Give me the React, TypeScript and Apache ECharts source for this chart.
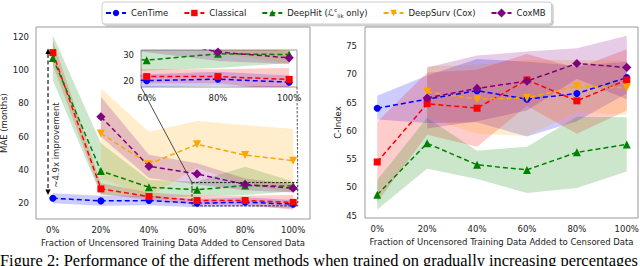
import React, { useEffect, useRef } from "react";
import * as echarts from "echarts";

// ---------- data ----------
const pcts = [0, 20, 40, 60, 80, 100];
const pctTickLabels = ["0%", "20%", "40%", "60%", "80%", "100%"];
const maeTicks = [20, 40, 60, 80, 100, 120];
const cTicks = [45, 50, 55, 60, 65, 70, 75];
const insetXTicks = [60, 80, 100];
const insetYTicks = [20, 30];

const methodNames = ["CenTime", "Classical", "DeepHit", "DeepSurv (Cox)", "CoxMB"];

// MAE (months)
const cenTimeMae = [23.0, 21.4, 21.6, 20.0, 20.6, 19.4];
const classicalMae = [110.6, 28.6, 24.0, 21.6, 21.6, 20.5];
const deepHitMae = [107.3, 39.4, 29.6, 28.1, 30.6, 30.3];
const deepSurvMae = [null, 62.0, 43.5, 55.4, 49.0, 45.6];
const coxMbMae = [null, 72.0, 42.2, 37.6, 31.3, 29.0];

const cenTimeMaeLo = [20.0, 18.5, 18.8, 17.5, 18.0, 17.0];
const cenTimeMaeHi = [26.0, 24.5, 24.5, 22.5, 23.5, 22.0];
const classicalMaeLo = [103.0, 25.5, 22.0, 19.0, 19.0, 16.0];
const classicalMaeHi = [118.0, 32.0, 26.5, 24.5, 24.5, 25.0];
const deepHitMaeLo = [94.0, 25.0, 23.5, 24.0, 25.0, 27.0];
const deepHitMaeHi = [121.0, 56.0, 34.0, 33.0, 42.0, 33.0];
const deepSurvMaeLo = [null, 35.0, 24.0, 41.4, 31.0, 26.6];
const deepSurvMaeHi = [null, 89.0, 63.0, 69.4, 67.0, 64.6];
const coxMbMaeLo = [null, 60.0, 35.2, 31.2, 27.8, 26.5];
const coxMbMaeHi = [null, 84.0, 49.2, 44.0, 34.8, 31.5];

// C-Index
const cenTimeC = [64.0, 65.6, 67.1, 65.6, 66.6, 69.4];
const classicalC = [54.5, 64.8, 64.0, 69.0, 65.3, 69.0];
const deepHitC = [48.7, 57.8, 54.0, 53.1, 56.2, 57.6];
const deepSurvC = [null, 66.9, 65.6, 65.8, 67.9, 67.6];
const coxMbC = [null, 65.8, 67.5, 68.8, 71.9, 71.2];

const cenTimeCLo = [62.0, 61.4, 61.5, 59.0, 61.7, 66.6];
const cenTimeCHi = [66.2, 69.8, 72.7, 72.2, 71.5, 72.2];
const classicalCLo = [47.4, 59.3, 57.2, 64.4, 59.5, 63.6];
const classicalCHi = [61.6, 70.3, 70.8, 73.6, 71.1, 74.4];
const deepHitCLo = [46.1, 53.3, 51.5, 49.0, 49.9, 52.8];
const deepHitCHi = [51.3, 62.3, 56.5, 57.2, 62.5, 62.4];
const deepSurvCLo = [null, 62.4, 59.5, 59.1, 63.3, 62.8];
const deepSurvCHi = [null, 71.4, 71.7, 72.5, 72.5, 72.4];
const coxMbCLo = [null, 60.4, 61.7, 63.6, 69.2, 65.6];
const coxMbCHi = [null, 71.2, 73.3, 74.0, 74.6, 76.8];

// annotation values
const improvementTop = 113;
const improvementBottom = 25;
const improvementX = -2;

// ---------- styles ----------
const FONT = "DejaVu Sans";
const TXT = "#222";
const FRAME = "#999";

const styles: Record<string, any> = {
  CenTime: { color: "#0000ff", fill: "rgba(0,0,255,0.2)", symbol: "circle", size: 7, rotate: 0 },
  Classical: { color: "#ff0000", fill: "rgba(255,0,0,0.2)", symbol: "rect", size: 7, rotate: 0 },
  DeepHit: { color: "#008000", fill: "rgba(0,128,0,0.2)", symbol: "triangle", size: 8, rotate: 0 },
  "DeepSurv (Cox)": { color: "#ffa500", fill: "rgba(255,165,0,0.2)", symbol: "triangle", size: 8, rotate: 180 },
  CoxMB: { color: "#800080", fill: "rgba(128,0,128,0.2)", symbol: "rect", size: 6.5, rotate: 45 },
};

const maeData: Record<string, any[]> = {
  CenTime: [cenTimeMae, cenTimeMaeLo, cenTimeMaeHi],
  Classical: [classicalMae, classicalMaeLo, classicalMaeHi],
  DeepHit: [deepHitMae, deepHitMaeLo, deepHitMaeHi],
  "DeepSurv (Cox)": [deepSurvMae, deepSurvMaeLo, deepSurvMaeHi],
  CoxMB: [coxMbMae, coxMbMaeLo, coxMbMaeHi],
};
const cData: Record<string, any[]> = {
  CenTime: [cenTimeC, cenTimeCLo, cenTimeCHi],
  Classical: [classicalC, classicalCLo, classicalCHi],
  DeepHit: [deepHitC, deepHitCLo, deepHitCHi],
  "DeepSurv (Cox)": [deepSurvC, deepSurvCLo, deepSurvCHi],
  CoxMB: [coxMbC, coxMbCLo, coxMbCHi],
};

function pts(vals: (number | null)[]) {
  return pcts.map((x, i) => (vals[i] == null ? null : [x, vals[i]])).filter(Boolean);
}

function lineSeries(name: string, vals: any[], axisIdx: number, z: number) {
  const s = styles[name];
  return {
    type: "line",
    name,
    xAxisIndex: axisIdx,
    yAxisIndex: axisIdx,
    data: pts(vals),
    symbol: s.symbol,
    symbolSize: s.size,
    symbolRotate: s.rotate,
    lineStyle: { color: s.color, width: 1.5, type: [5, 3] },
    itemStyle: { color: s.color },
    clip: true,
    silent: true,
    z,
  };
}

function bandSeries(name: string, lo: any[], hi: any[], axisIdx: number, z: number) {
  const s = styles[name];
  const rows = pcts
    .map((x, i) => (lo[i] == null ? null : [x, lo[i], hi[i]]))
    .filter(Boolean) as number[][];
  return {
    type: "custom",
    name,
    xAxisIndex: axisIdx,
    yAxisIndex: axisIdx,
    data: rows,
    encode: { x: 0, y: [1, 2] },
    clip: true,
    silent: true,
    z,
    renderItem: (params: any, api: any) => {
      if (params.dataIndex !== 0) return null;
      const top = rows.map((r) => api.coord([r[0], r[2]]));
      const bot = rows.map((r) => api.coord([r[0], r[1]])).reverse();
      return {
        type: "polygon",
        shape: { points: top.concat(bot) },
        style: { fill: s.fill, stroke: "none" },
      };
    },
  };
}

const inList = (list: number[], v: number) => list.some((t) => Math.abs(t - v) < 1e-6);
const pctFmt = (v: number) => {
  const i = pcts.findIndex((t) => Math.abs(t - v) < 1e-6);
  return i >= 0 ? pctTickLabels[i] : "";
};

const labelStyle = { fontSize: 8.5, color: TXT, fontFamily: FONT };
const xTitle = "Fraction of Uncensored Training Data Added to Censored Data";

const insetX = [58.4, 102.2];
const insetY = [17.5, 32.1];
const boxX = [57.9, 101.9];
const boxY = [18.4, 32.4];

export default function App() {
  const ref = useRef<HTMLDivElement>(null);
  useEffect(() => {
    if (!ref.current) return;
    const chart = echarts.init(ref.current, undefined, { renderer: "svg" });

    const series: any[] = [];
    methodNames.forEach((n) => series.push(lineSeries(n, maeData[n][0], 0, 5)));
    methodNames.forEach((n) => series.push(lineSeries(n, cData[n][0], 1, 5)));
    methodNames.forEach((n) => series.push(bandSeries(n, maeData[n][1], maeData[n][2], 0, 2)));
    methodNames.forEach((n) => series.push(bandSeries(n, cData[n][1], cData[n][2], 1, 2)));
    methodNames.forEach((n) => series.push(bandSeries(n, maeData[n][1], maeData[n][2], 2, 11)));
    methodNames.forEach((n) => series.push(lineSeries(n, maeData[n][0], 2, 12)));

    const xBase = (min: number, max: number, split: number, gi: number) => ({
      type: "value",
      gridIndex: gi,
      min,
      max,
      splitNumber: split,
      axisLine: { show: false },
      axisTick: { show: false },
      splitLine: { show: false },
    });

    const option: any = {
      animation: false,
      backgroundColor: "#fff",
      textStyle: { fontFamily: FONT },
      legend: {
        data: methodNames,
        left: 102,
        top: 2,
        padding: [5, 6, 5, 3],
        itemWidth: 20,
        itemHeight: 8,
        itemGap: 15,
        borderColor: "#ccc",
        borderWidth: 1,
        borderRadius: 3,
        backgroundColor: "#fff",
        shadowColor: "rgba(0,0,0,0.25)",
        shadowOffsetX: 1.5,
        shadowOffsetY: 1.5,
        shadowBlur: 1,
        textStyle: {
          ...labelStyle,
          rich: {
            n: { fontSize: 8.5, color: TXT, fontFamily: FONT, lineHeight: 12 },
            l: { fontSize: 9, color: TXT, fontFamily: FONT, lineHeight: 12 },
            sup: { fontSize: 5.5, color: TXT, fontFamily: FONT, lineHeight: 12, verticalAlign: "top" },
            sub: { fontSize: 5.5, color: TXT, fontFamily: FONT, lineHeight: 12, verticalAlign: "bottom" },
          },
        },
        formatter: (name: string) =>
          name === "DeepHit" ? "{n|DeepHit (}{l|ℒ}{sup|c}{sub|lik}{n| only)}" : name,
      },
      grid: [
        { left: 36, top: 27, width: 274, height: 192, show: true, borderColor: FRAME, borderWidth: 1, backgroundColor: "#fff", outerBoundsMode: "none" },
        { left: 365, top: 27, width: 273, height: 191, show: true, borderColor: FRAME, borderWidth: 1, backgroundColor: "#fff", outerBoundsMode: "none" },
        { left: 141, top: 50, width: 156, height: 37, show: true, borderColor: FRAME, borderWidth: 1, backgroundColor: "#fff", z: 10, outerBoundsMode: "none" },
      ],
      xAxis: [
        {
          ...xBase(-7, 107, 6, 0),
          axisLabel: { ...labelStyle, formatter: pctFmt, margin: 6, showMinLabel: true, showMaxLabel: true },
          name: xTitle,
          nameLocation: "middle",
          nameGap: 16,
          nameTextStyle: labelStyle,
        },
        {
          ...xBase(-4.9, 104.5, 5, 1),
          axisLabel: { ...labelStyle, formatter: pctFmt, margin: 6 },
          name: xTitle,
          nameLocation: "middle",
          nameGap: 17,
          nameTextStyle: labelStyle,
        },
        {
          ...xBase(insetX[0], insetX[1], 2, 2),
          z: 13,
          axisLabel: { ...labelStyle, formatter: (v: number) => (inList(insetXTicks, v) ? v + "%" : ""), margin: 6 },
        },
      ],
      yAxis: [
        {
          type: "value",
          gridIndex: 0,
          min: 10.5,
          max: 126,
          splitNumber: 5,
          axisLine: { show: false },
          axisTick: { show: false },
          splitLine: { show: false },
          axisLabel: { ...labelStyle, margin: 7, formatter: (v: number) => (inList(maeTicks, v) ? String(v) : "") },
          name: "MAE (months)",
          nameLocation: "middle",
          nameGap: 24,
          nameTextStyle: labelStyle,
        },
        {
          type: "value",
          gridIndex: 1,
          min: 44.6,
          max: 78.35,
          splitNumber: 7,
          axisLine: { show: false },
          axisTick: { show: false },
          splitLine: { show: false },
          axisLabel: { ...labelStyle, margin: 8, formatter: (v: number) => (inList(cTicks, v) ? String(v) : "") },
          name: "C-Index",
          nameLocation: "middle",
          nameGap: 20,
          nameTextStyle: labelStyle,
        },
        {
          type: "value",
          gridIndex: 2,
          min: insetY[0],
          max: insetY[1],
          splitNumber: 2,
          z: 13,
          axisLine: { show: false },
          axisTick: { show: false },
          splitLine: { show: false },
          axisLabel: { ...labelStyle, margin: 7, formatter: (v: number) => (inList(insetYTicks, v) ? String(v) : "") },
        },
      ],
      series,
    };

    chart.setOption(option);

    const p0 = (pt: number[]) => chart.convertToPixel({ gridIndex: 0 } as any, pt) as number[];
    const p2 = (pt: number[]) => chart.convertToPixel({ gridIndex: 2 } as any, pt) as number[];

    const insBL = p2([insetX[0], insetY[0]]);
    const insBR = p2([insetX[1], insetY[0]]);
    const bTL = p0([boxX[0], boxY[1]]);
    const bBR = p0([boxX[1], boxY[0]]);
    const aTop = p0([improvementX, improvementTop]);
    const aBot = p0([improvementX, improvementBottom]);
    const head = 5.5;
    const hw = 2.6;
    const txtPos = p0([1.2, 55]);

    chart.setOption({
      graphic: [
        {
          type: "rect",
          z: 20,
          silent: true,
          shape: { x: bTL[0], y: bTL[1], width: bBR[0] - bTL[0], height: bBR[1] - bTL[1] },
          style: { fill: "none", stroke: "#222", lineWidth: 1, lineDash: [2.5, 1.5] },
        },
        {
          type: "line",
          z: 20,
          silent: true,
          shape: { x1: insBL[0], y1: insBL[1], x2: bTL[0], y2: bTL[1] },
          style: { stroke: "#222", lineWidth: 0.8 },
        },
        {
          type: "line",
          z: 20,
          silent: true,
          shape: { x1: insBR[0], y1: insBR[1], x2: bBR[0], y2: bTL[1] },
          style: { stroke: "#555", lineWidth: 1, lineDash: [2.5, 1.5] },
        },
        {
          type: "line",
          z: 20,
          silent: true,
          shape: { x1: aTop[0], y1: aTop[1] + head, x2: aBot[0], y2: aBot[1] - head },
          style: { stroke: "#000", lineWidth: 1.1, lineDash: [4, 2.5] },
        },
        {
          type: "polygon",
          z: 20,
          silent: true,
          shape: { points: [[aTop[0], aTop[1]], [aTop[0] - hw, aTop[1] + head], [aTop[0] + hw, aTop[1] + head]] },
          style: { fill: "#000" },
        },
        {
          type: "polygon",
          z: 20,
          silent: true,
          shape: { points: [[aBot[0], aBot[1]], [aBot[0] - hw, aBot[1] - head], [aBot[0] + hw, aBot[1] - head]] },
          style: { fill: "#000" },
        },
        {
          type: "text",
          z: 20,
          silent: true,
          x: txtPos[0],
          y: txtPos[1],
          rotation: Math.PI / 2,
          style: {
            text: "~4.9x improvement",
            fontSize: 8.5,
            fontFamily: FONT,
            fill: "#333",
            align: "center",
            verticalAlign: "middle",
          },
        },
        {
          type: "text",
          z: 20,
          silent: true,
          x: 0,
          y: 260.5,
          style: {
            text: "Figure 2: Performance of the different methods when trained on gradually increasing percentages",
            fontSize: 16.4,
            fontFamily: "Liberation Serif",
            fill: "#000",
            align: "left",
            verticalAlign: "middle",
          },
        },
      ],
    });

    return () => chart.dispose();
  }, []);

  return <div ref={ref} style={{ position: "fixed", left: 0, top: 0, width: 640, height: 266 }} />;
}
